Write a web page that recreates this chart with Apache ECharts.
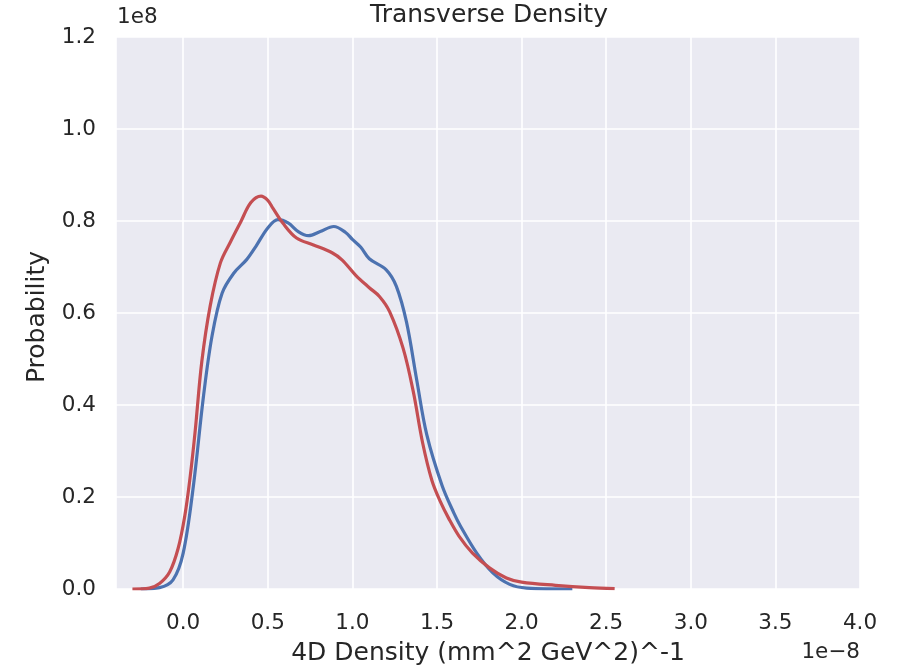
<!DOCTYPE html>
<html>
<head>
<meta charset="utf-8">
<script src="https://cdn.jsdelivr.net/npm/echarts@6/dist/echarts.min.js"></script>
<style>
  html, body { margin: 0; padding: 0; background: #ffffff; }
  #chart { width: 902px; height: 668px; }
</style>
</head>
<body>
<div id="chart"></div>
<script>
// KDE curves of the transverse 4D density (x in units of 1e-8, y in units of 1e8)
const redX = [-0.30, -0.20, -0.14, -0.08, -0.03, 0.01, 0.04, 0.07, 0.11, 0.16, 0.22, 0.28, 0.34, 0.40, 0.46, 0.50, 0.53, 0.59, 0.67, 0.77, 0.88, 0.94, 1.02, 1.10, 1.16, 1.22, 1.30, 1.36, 1.415, 1.47, 1.52, 1.57, 1.63, 1.71, 1.81, 1.91, 2.00, 2.20, 2.40, 2.55];
const redY = [0.000, 0.002, 0.012, 0.037, 0.088, 0.160, 0.240, 0.340, 0.494, 0.616, 0.709, 0.755, 0.798, 0.840, 0.854, 0.845, 0.828, 0.795, 0.763, 0.748, 0.731, 0.715, 0.682, 0.655, 0.636, 0.603, 0.523, 0.429, 0.318, 0.236, 0.190, 0.153, 0.115, 0.078, 0.046, 0.024, 0.015, 0.008, 0.003, 0.001];

const blueX = [-0.25, -0.14, -0.06, 0.00, 0.06, 0.12, 0.17, 0.23, 0.30, 0.375, 0.43, 0.50, 0.56, 0.62, 0.68, 0.74, 0.81, 0.89, 0.96, 1.00, 1.05, 1.10, 1.20, 1.26, 1.32, 1.38, 1.44, 1.53, 1.60, 1.64, 1.735, 1.83, 1.93, 2.03, 2.30];
const blueY = [0.000, 0.003, 0.020, 0.078, 0.223, 0.419, 0.549, 0.643, 0.687, 0.716, 0.745, 0.785, 0.803, 0.796, 0.777, 0.768, 0.777, 0.788, 0.775, 0.760, 0.743, 0.718, 0.694, 0.658, 0.580, 0.455, 0.335, 0.225, 0.165, 0.136, 0.078, 0.035, 0.010, 0.002, 0.000];

const xTicks = [0.0, 0.5, 1.0, 1.5, 2.0, 2.5, 3.0, 3.5, 4.0];
const yTicks = [0.0, 0.2, 0.4, 0.6, 0.8, 1.0, 1.2];

const titleText = 'Transverse Density';
const xName = '4D Density (mm^2 GeV^2)^-1';
const yName = 'Probability';
const xOffsetText = '1e\u22128';
const yOffsetText = '1e8';

(function () {
  const pairs = (xs, ys) => xs.map((x, i) => [x, ys[i]]);

  const FONT = 'DejaVu Sans';
  const TXT = '#262626';

  const chart = echarts.init(document.getElementById('chart'), null, { renderer: 'canvas' });

  const gLeft = 116, gRight = 42, gTop = 37, gBottom = 79;
  const plotW = 902 - gLeft - gRight;
  const plotH = 668 - gTop - gBottom;

  chart.setOption({
    backgroundColor: '#ffffff',
    animation: false,
    title: {
      text: titleText,
      left: gLeft + plotW / 2 - 4,
      textAlign: 'center',
      top: -2,
      textStyle: { fontFamily: FONT, fontSize: 25, fontWeight: 'normal', color: TXT }
    },
    grid: {
      left: gLeft, right: gRight, top: gTop, bottom: gBottom,
      containLabel: false,
      show: true,
      backgroundColor: '#eaeaf2',
      borderWidth: 0
    },
    xAxis: {
      type: 'value',
      min: -0.397,
      max: xTicks[xTicks.length - 1],
      splitNumber: 9,
      axisLine: { show: false },
      axisTick: { show: false },
      axisLabel: {
        fontFamily: FONT, fontSize: 21.5, color: TXT, margin: 23,
        showMinLabel: false,
        formatter: v => xTicks.some(t => Math.abs(t - v) < 1e-6) ? v.toFixed(1) : ''
      },
      splitLine: { show: true, lineStyle: { color: '#ffffff', width: 1.6 } }
    },
    yAxis: {
      type: 'value',
      min: yTicks[0],
      max: yTicks[yTicks.length - 1],
      interval: 0.2,
      axisLine: { show: false },
      axisTick: { show: false },
      axisLabel: {
        fontFamily: FONT, fontSize: 21.5, color: TXT, margin: 20,
        formatter: v => v.toFixed(1)
      },
      splitLine: { show: true, lineStyle: { color: '#ffffff', width: 1.6 } }
    },
    graphic: [
      {
        type: 'text', left: gLeft + 1, top: 6,
        style: { text: yOffsetText, fontFamily: FONT, fontSize: 21.5, fill: TXT }
      },
      {
        type: 'text', right: gRight, top: 641,
        style: { text: xOffsetText, fontFamily: FONT, fontSize: 21.5, fill: TXT }
      },
      {
        type: 'text', x: gLeft + plotW / 2, y: 653,
        style: { text: xName, fontFamily: FONT, fontSize: 25, fill: TXT, textAlign: 'center', textVerticalAlign: 'middle' }
      },
      {
        type: 'text', x: 37, y: gTop + plotH / 2 + 4, rotation: Math.PI / 2,
        style: { text: yName, fontFamily: FONT, fontSize: 25, fill: TXT, textAlign: 'center', textVerticalAlign: 'middle' }
      }
    ],
    series: [
      {
        type: 'line', data: pairs(blueX, blueY), showSymbol: false, smooth: 0.35,
        lineStyle: { color: '#4c72b0', width: 3.2 }, z: 3
      },
      {
        type: 'line', data: pairs(redX, redY), showSymbol: false, smooth: 0.35,
        lineStyle: { color: '#c44e52', width: 3.2 }, z: 4
      }
    ]
  });
})();
</script>
</body>
</html>
